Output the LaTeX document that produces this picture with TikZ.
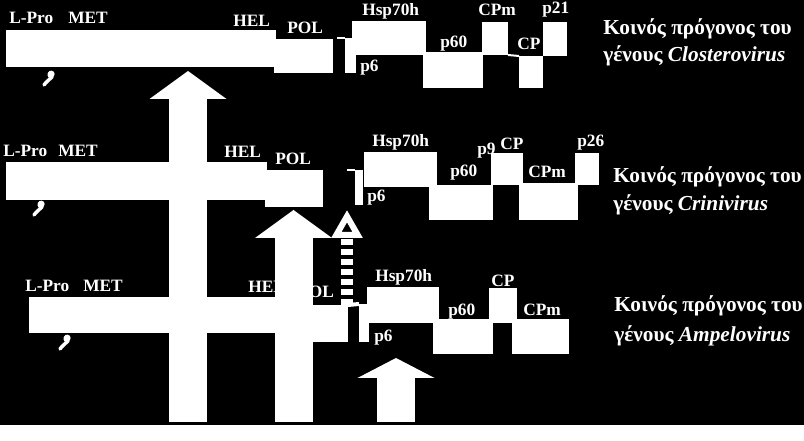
\documentclass[tikz,border=0pt]{standalone}
\usepackage{fontspec}
\setmainfont{Liberation Serif}
\usetikzlibrary{arrows.meta}
\tikzset{
  gene/.style 2 args={fill=white,inner sep=0pt,outer sep=0pt,anchor=north west,
    minimum width=#1*0.75pt,minimum height=#2*0.75pt},
  lbl/.style={text=white,inner sep=0pt,anchor=base west,font=\bfseries\fontsize{13}{15}\selectfont},
  note/.style={text=white,inner sep=0pt,anchor=base west,font=\bfseries\fontsize{16}{19}\selectfont},
  stub/.style={white,line width=1.5pt},
  squig/.style={white,line width=2.6pt,line cap=round,line join=round},
  bigarrow/.style={white,line width=28.5pt,-{Triangle[length=#1,width=57.75pt,line width=0pt]}},
  bigarrow/.default=21pt,
  dasharrow/.style={white,line width=9pt,dash pattern=on 4.5pt off 3pt,
    -{Triangle[open,length=21pt,width=22.5pt,line width=4.5pt]}},
}
\begin{document}
\begin{tikzpicture}[x=0.75pt,y=-0.75pt]
  \fill[black] (0,0) rectangle (804,425);
  % Closterovirus
  \node[gene={270}{37}] (bar1) at (6,30) {};
  \node[gene={59}{34}] (pol1) at (274,39) {};
  \node[gene={11}{35}] (p6a) at (345,38) {};
  \node[gene={74}{34}] (hsp1) at (352,21) {};
  \node[gene={60}{36}] (p60a) at (423,52) {};
  \node[gene={26}{33}] (cpma) at (482,22) {};
  \node[gene={24}{32}] (cpa) at (519,56) {};
  \node[gene={24}{34}] (p21a) at (543,22) {};
  \draw[stub] (p6a.north west) -- ++(-8,0);
  \draw[stub] (cpma.south east) -- (cpa.north west);
  \node[lbl] (lproa) at (9,24) {L-Pro};
  \node[lbl] (meta) at (68,24) {MET};
  \node[lbl] (hela) at (233,27) {HEL};
  \node[lbl] (pola) at (287,34) {POL};
  \node[lbl] (hspa) at (362,16) {Hsp70h};
  \node[lbl] (psixa) at (360,72) {p6};
  \node[lbl] (psixtya) at (440,48) {p60};
  \node[lbl] (cpmla) at (478,16) {CPm};
  \node[lbl] (cpla) at (517,50) {CP};
  \node[lbl] (ptwa) at (542,14) {p21};
  % Crinivirus
  \node[gene={261}{38}] (bar2) at (6,162) {};
  \node[gene={58}{37}] (pol2) at (265,170) {};
  \node[gene={8}{35}] (p6b) at (355,170) {};
  \node[gene={73}{35}] (hsp2) at (364,152) {};
  \node[gene={64}{35}] (p60b) at (429,185) {};
  \node[gene={32}{32}] (cpb) at (491,153) {};
  \node[gene={59}{37}] (cpmb) at (519,183) {};
  \node[gene={24}{32}] (p26b) at (575,153) {};
  \draw[stub] (p6b.north west) -- ++(-8,0);
  \node[lbl] (lprob) at (3,157) {L-Pro};
  \node[lbl] (metb) at (58,157) {MET};
  \node[lbl] (helb) at (224,158) {HEL};
  \node[lbl] (polb) at (275,165) {POL};
  \node[lbl] (hspb) at (372,147) {Hsp70h};
  \node[lbl] (psixb) at (367,202) {p6};
  \node[lbl] (psixtyb) at (450,177) {p60};
  \node[lbl] (pnineb) at (477,155) {p9};
  \node[lbl] (cplb) at (500,150) {CP};
  \node[lbl] (cpmlb) at (528,178) {CPm};
  \node[lbl] (ptwb) at (577,147) {p26};
  % Ampelovirus
  \node[gene={271}{36}] (bar3) at (29,297) {};
  \node[gene={52}{37}] (pol3) at (296,305) {};
  \node[gene={10}{38}] (p6c) at (359,304) {};
  \node[gene={72}{36}] (hsp3) at (367,287) {};
  \node[gene={60}{35}] (p60c) at (433,319) {};
  \node[gene={28}{35}] (cpc) at (489,288) {};
  \node[gene={57}{35}] (cpmc) at (512,319) {};
  \draw[stub,line width=3pt] (p6c.north west) -- (pol3.north east);
  \node[lbl] (lproc) at (25,292) {L-Pro};
  \node[lbl] (metc) at (83,292) {MET};
  \node[lbl] (helc) at (248,293) {HEL};
  \node[lbl] (polc) at (298,298) {POL};
  \node[lbl] (hspc) at (375,282) {Hsp70h};
  \node[lbl] (psixc) at (374,342) {p6};
  \node[lbl] (psixtyc) at (448,316) {p60};
  \node[lbl] (cplc) at (491,287) {CP};
  \node[lbl] (cpmlc) at (523,316) {CPm};
  % protease marks
  \foreach \sx/\sy in {42/70,32/200,58/334}{
    \fill[white] (\sx+9.5,\sy+4) circle[radius=3.2];
    \draw[squig] (\sx+9,\sy+2) .. controls (\sx+6,\sy+4) and (\sx+7,\sy+7) .. (\sx+10,\sy+7)
      .. controls (\sx+8,\sy+9) and (\sx+4,\sy+12) .. (\sx+2,\sy+15);
  }
  % genus captions
  \foreach \n/\x/\ya/\yb/\g in {clo/603/35/62/Closterovirus,cri/613/183/211/Crinivirus,amp/614/312/342/Ampelovirus}{
    \node[note] (\n a) at (\x,\ya) {Κοινός πρόγονος του};
    \node[note] (\n b) at (\x,\yb) {γένους \textit{\g}};
  }
  % evolution arrows
  \coordinate (foot1) at (188,422);
  \coordinate (foot2) at (293.5,422);
  \coordinate (foot3) at (396,422);
  \coordinate (dfoot) at (347,305);
  \draw[bigarrow,shorten >=3pt] (foot1) -- (foot1 |- bar1.south);
  \draw[bigarrow,shorten >=2.25pt] (foot2) -- (foot2 |- pol2.south);
  \draw[bigarrow=15pt,shorten >=3pt] (foot3) -- (foot3 |- p60c.south);
  \draw[dasharrow,shorten >=2.25pt] (dfoot) -- (dfoot |- pol2.south);
\end{tikzpicture}
\end{document}
